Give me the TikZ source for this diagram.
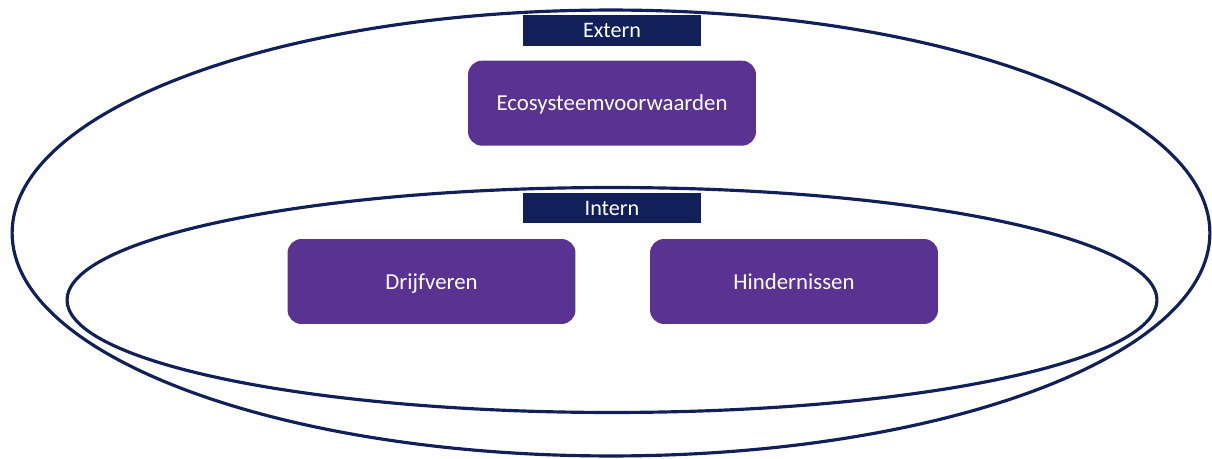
\documentclass[tikz,border=0pt]{standalone}
\usepackage{fontspec}
\setmainfont{Carlito}
\usetikzlibrary{positioning}
\definecolor{navy}{HTML}{12205A}
\definecolor{paars}{HTML}{5A3291}

\begin{document}
\begin{tikzpicture}[x=0.02cm,y=-0.02cm,
    ring/.style={draw=navy,line width=1.8pt},
    kop/.style={fill=navy,text=white,font=\fontsize{12.6}{15}\selectfont,
      text height=1.7ex,text depth=0ex,
      minimum width=3.56cm,minimum height=0.62cm,inner sep=0pt},
    blok/.style={fill=paars,text=white,font=\fontsize{13}{15}\selectfont,
      text height=1.8ex,text depth=0ex,
      rounded corners=0.28cm,minimum width=5.76cm,minimum height=1.7cm,inner sep=0pt}]
  \useasboundingbox (0,0) rectangle (1212,459);
  % ringen
  \draw[ring] (611,233) ellipse [x radius=11.98cm,y radius=4.46cm];
  \draw[ring] (612,300) ellipse [x radius=10.9cm,y radius=2.25cm];
  % koppen en blokken
  \node[kop] (extern) at (612,30.5) {Extern};
  \node[blok,below=0.28cm of extern] (eco) {Ecosysteemvoorwaarden};
  \node[kop] (intern) at (612,208) {Intern};
  \node[blok] (drijf) at (431.5,281.5) {Drijfveren};
  \node[blok] (hinder) at (794,281.5) {Hindernissen};
\end{tikzpicture}
\end{document}
